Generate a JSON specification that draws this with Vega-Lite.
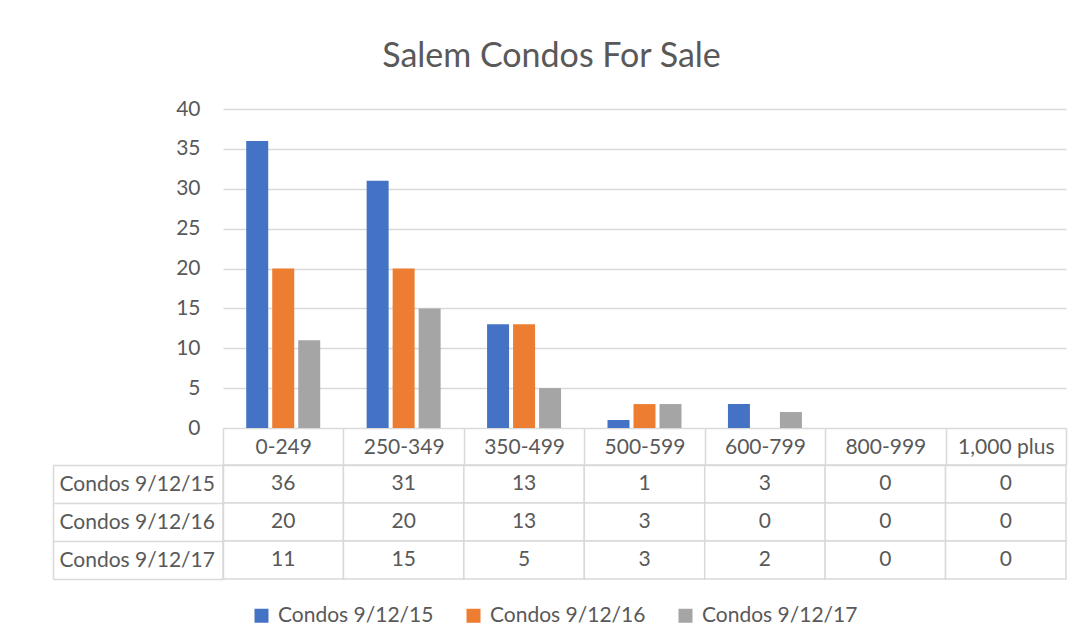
{
  "$schema": "https://vega.github.io/schema/vega-lite/v6.json",
  "padding": {"left": 52, "top": 40, "right": 18, "bottom": 10},
  "background": "white",
  "title": {"text": "Salem Condos For Sale", "fontSize": 34, "font": "Lato", "fontWeight": "normal", "color": "#595959", "anchor": "middle", "frame": "bounds", "offset": 24, "dx": -8},
  "datasets": {
    "condos": [
      {"range": "0-249", "series": "Condos 9/12/15", "count": 36},
      {"range": "0-249", "series": "Condos 9/12/16", "count": 20},
      {"range": "0-249", "series": "Condos 9/12/17", "count": 11},
      {"range": "250-349", "series": "Condos 9/12/15", "count": 31},
      {"range": "250-349", "series": "Condos 9/12/16", "count": 20},
      {"range": "250-349", "series": "Condos 9/12/17", "count": 15},
      {"range": "350-499", "series": "Condos 9/12/15", "count": 13},
      {"range": "350-499", "series": "Condos 9/12/16", "count": 13},
      {"range": "350-499", "series": "Condos 9/12/17", "count": 5},
      {"range": "500-599", "series": "Condos 9/12/15", "count": 1},
      {"range": "500-599", "series": "Condos 9/12/16", "count": 3},
      {"range": "500-599", "series": "Condos 9/12/17", "count": 3},
      {"range": "600-799", "series": "Condos 9/12/15", "count": 3},
      {"range": "600-799", "series": "Condos 9/12/16", "count": 0},
      {"range": "600-799", "series": "Condos 9/12/17", "count": 2},
      {"range": "800-999", "series": "Condos 9/12/15", "count": 0},
      {"range": "800-999", "series": "Condos 9/12/16", "count": 0},
      {"range": "800-999", "series": "Condos 9/12/17", "count": 0},
      {"range": "1,000 plus", "series": "Condos 9/12/15", "count": 0},
      {"range": "1,000 plus", "series": "Condos 9/12/16", "count": 0},
      {"range": "1,000 plus", "series": "Condos 9/12/17", "count": 0}
    ]
  },
  "config": {
    "view": {"stroke": null},
    "font": "Lato",
    "text": {"font": "Lato", "fontSize": 21, "color": "#595959"}
  },
  "spacing": -11,
  "vconcat": [
    {
      "width": 843,
      "height": 319,
      "data": {"name": "condos"},
      "mark": {"type": "bar"},
      "encoding": {
        "x": {
          "field": "range", "type": "nominal",
          "sort": ["0-249", "250-349", "350-499", "500-599", "600-799", "800-999", "1,000 plus"],
          "scale": {"paddingInner": 0, "paddingOuter": 0},
          "axis": null
        },
        "xOffset": {
          "field": "series", "type": "nominal",
          "scale": {"paddingInner": 0.154, "paddingOuter": 0.893}
        },
        "y": {
          "field": "count", "type": "quantitative",
          "scale": {"domain": [0, 40], "nice": false},
          "axis": {
            "title": null, "values": [0, 5, 10, 15, 20, 25, 30, 35, 40],
            "domain": false, "ticks": false,
            "grid": true, "gridColor": "#d9d9d9", "gridWidth": 1.5,
            "labelFont": "Lato", "labelFontSize": 21, "labelColor": "#595959",
            "labelPadding": 23, "minExtent": 170
          }
        },
        "color": {
          "field": "series", "type": "nominal",
          "scale": {"domain": ["Condos 9/12/15", "Condos 9/12/16", "Condos 9/12/17"], "range": ["#4472C4", "#ED7D31", "#A5A5A5"]},
          "legend": {
            "orient": "none", "legendX": 28, "legendY": 496,
            "direction": "horizontal", "title": null,
            "symbolType": "square", "symbolSize": 196, "symbolStrokeWidth": 0,
            "labelFont": "Lato", "labelFontSize": 21, "labelColor": "#595959",
            "labelOffset": 6, "columnPadding": 29
          }
        }
      }
    },
    {
      "width": 843,
      "height": 114,
      "data": {"name": "condos"},
      "encoding": {
        "x": {
          "field": "range", "type": "nominal",
          "sort": ["0-249", "250-349", "350-499", "500-599", "600-799", "800-999", "1,000 plus"],
          "scale": {"paddingInner": 0, "paddingOuter": 0},
          "axis": {
            "orient": "top", "title": null, "labelAngle": 0,
            "tickBand": "extent", "tickSize": 37, "tickColor": "#d9d9d9", "tickWidth": 1.5,
            "domainColor": "#d9d9d9", "domainWidth": 1.5,
            "labelBaseline": "middle", "labelPadding": -19,
            "labelFont": "Lato", "labelFontSize": 21, "labelColor": "#595959"
          }
        }
      },
      "layer": [
        {
          "mark": {"type": "rect", "fill": "white", "stroke": "#d9d9d9", "strokeWidth": 1.5},
          "encoding": {
            "y": {
              "field": "series", "type": "nominal",
              "scale": {"domain": ["Condos 9/12/15", "Condos 9/12/16", "Condos 9/12/17"], "paddingInner": 0, "paddingOuter": 0},
              "axis": {
                "orient": "left", "title": null,
                "tickBand": "extent", "tickSize": 170, "tickColor": "#d9d9d9", "tickWidth": 1.5,
                "domainColor": "#d9d9d9", "domainWidth": 1.5,
                "labelAlign": "left", "labelBaseline": "middle", "labelPadding": -6,
                "labelFont": "Lato", "labelFontSize": 21, "labelColor": "#595959",
                "minExtent": 170, "maxExtent": 170
              }
            }
          }
        },
        {
          "mark": {"type": "text"},
          "encoding": {
            "y": {
              "field": "series", "type": "nominal",
              "scale": {"domain": ["Condos 9/12/15", "Condos 9/12/16", "Condos 9/12/17"], "paddingInner": 0, "paddingOuter": 0},
              "axis": {
                "orient": "left", "offset": 170, "title": null,
                "labels": false, "ticks": false, "grid": false,
                "domain": true, "domainColor": "#d9d9d9", "domainWidth": 1.5
              }
            },
            "text": {"field": "count"}
          }
        }
      ],
      "resolve": {"scale": {"y": "independent"}, "axis": {"y": "independent"}}
    }
  ]
}
